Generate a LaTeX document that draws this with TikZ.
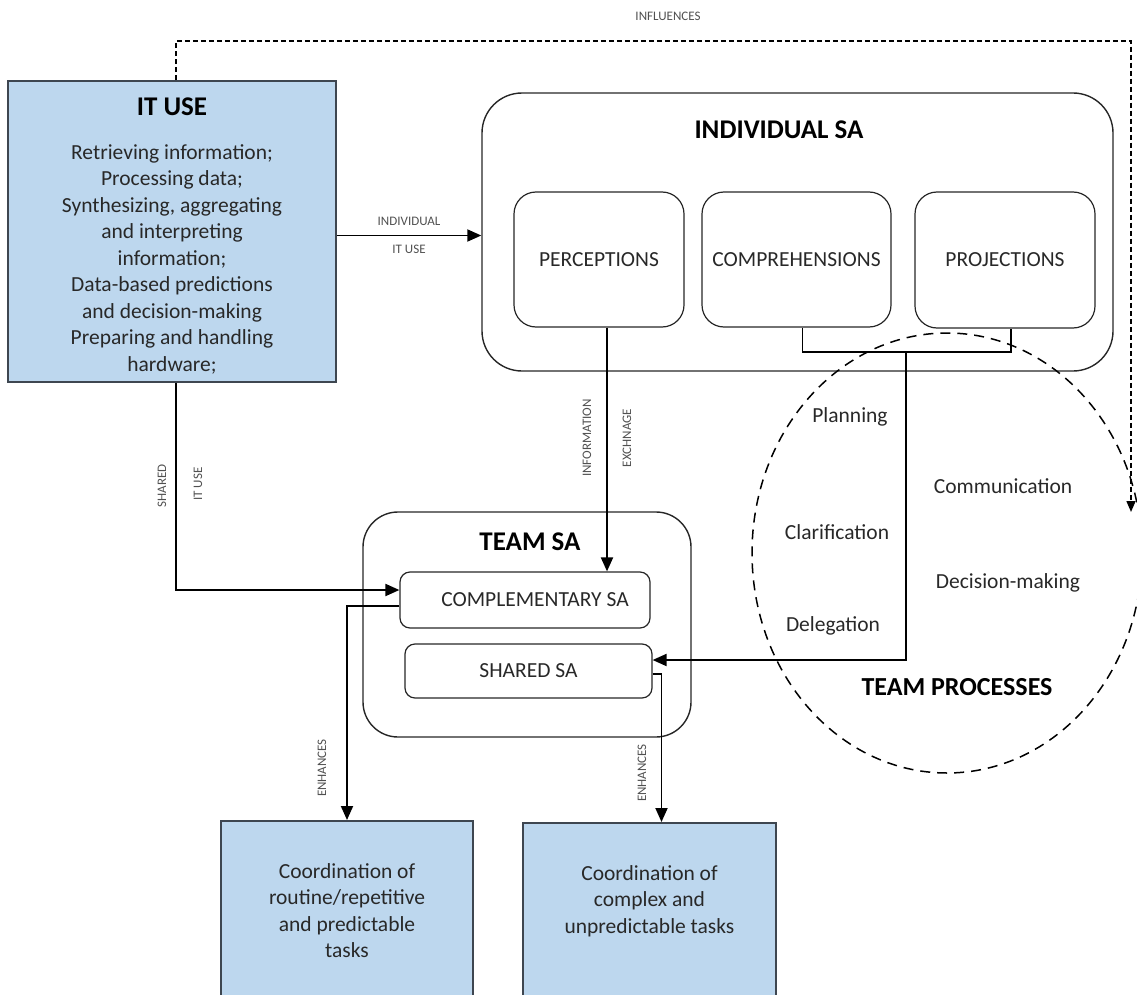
\documentclass[tikz,border=0pt]{standalone}
\usepackage{fontspec}
\setmainfont{Carlito}
\usetikzlibrary{arrows.meta}
\definecolor{boxblue}{RGB}{189,215,238}
\definecolor{boxedge}{RGB}{62,70,80}
\definecolor{inkgray}{RGB}{40,40,40}
\definecolor{lblgray}{RGB}{80,80,80}

\tikzset{
  bluebox/.style={draw=boxedge, fill=boxblue, line width=1.5pt, inner sep=0pt},
  outerbox/.style={draw=black!85, line width=1.4pt, rounded corners=#1, inner sep=0pt},
  innerbox/.style={draw=black!85, line width=1.2pt, rounded corners=#1, inner sep=0pt},
  headtxt/.style={font=\fontsize{27}{32}\selectfont\bfseries, text=black},
  bodytxt/.style={font=\fontsize{21.5}{26.5}\selectfont, text=inkgray, align=center},
  smalllbl/.style={font=\fontsize{13}{15}\selectfont, text=lblgray, inner sep=1pt},
  arr/.style={line width=1.9pt, -{Triangle[length=14pt,width=12pt]}},
  infl/.style={line width=1.6pt, dash pattern=on 5pt off 3pt},
}

\begin{document}
\begin{tikzpicture}[x=1pt,y=-1pt]
\useasboundingbox (0,0) rectangle (1137,995);
\clip (0,0) rectangle (1137,995);

% IT use
\node[bluebox, minimum width=328, minimum height=301] (ituse) at (172,231.5) {};
\node[headtxt] (itusehead) at (172,107) {IT USE};
\node[bodytxt] (itusebody) at (172,259) {Retrieving information;\\Processing data;\\Synthesizing, aggregating\\and interpreting\\information;\\Data-based predictions\\and decision-making\\Preparing and handling\\hardware;};

% individual SA
\node[outerbox=40pt, minimum width=631, minimum height=278] (indiv) at (797.5,232) {};
\node[headtxt] (indivhead) at (779,130) {INDIVIDUAL SA};
\node[innerbox=22pt, bodytxt, minimum width=170, minimum height=135] (percep) at (599,259.5) {PERCEPTIONS};
\node[innerbox=22pt, bodytxt, minimum width=189, minimum height=135] (compr) at (796.5,259.5) {COMPREHENSIONS};
\node[innerbox=22pt, bodytxt, minimum width=180, minimum height=136] (proj) at (1005,260) {PROJECTIONS};

% team SA
\node[outerbox=35pt, minimum width=328, minimum height=225] (team) at (527,624.5) {};
\node[headtxt] (teamhead) at (530,542) {TEAM SA};
\node[innerbox=10pt, bodytxt, minimum width=250, minimum height=56] (compl) at (525,600) {\hspace{20pt}COMPLEMENTARY SA};
\node[innerbox=10pt, bodytxt, minimum width=247, minimum height=54] (shared) at (528.5,671) {SHARED SA};

% team processes
\draw[line width=1.5pt, dash pattern=on 10pt off 7pt] (947,553) ellipse [x radius=195pt, y radius=220pt];
\node[bodytxt] (plan) at (850,417) {Planning};
\node[bodytxt] (clar) at (837,532) {Clarification};
\node[bodytxt] (deleg) at (833,626) {Delegation};
\node[bodytxt] (comm) at (1003,486) {Communication};
\node[bodytxt] (decis) at (1008,583) {Decision-making};
\node[headtxt, font=\fontsize{26}{30}\selectfont\bfseries] (prochead) at (957,687) {TEAM PROCESSES};

% outcomes
\node[bluebox, bodytxt, anchor=north, minimum width=252, minimum height=180] (task1) at (347,820) {Coordination of\\routine/repetitive\\and predictable\\tasks};
\node[bluebox, bodytxt, anchor=north, minimum width=253, minimum height=180] (task2) at (649.5,822) {Coordination of\\complex and\\unpredictable tasks\\\mbox{}};

% connectors
\draw[arr] ([yshift=-4pt]ituse.east) -- ([yshift=-4pt]ituse.east -| indiv.west)
  node[smalllbl, midway, above=8pt] (lblind) {INDIVIDUAL}
  node[smalllbl, midway, below=8pt] (lblind2) {IT USE};

\draw[arr] ([xshift=8pt]percep.south) -- ([xshift=8pt]percep.south |- compl.north);
\node[smalllbl, rotate=90] (lblinfo) at (587,438) {INFORMATION};
\node[smalllbl, rotate=90] (lblexch) at (627,438) {EXCHNAGE};

\draw[arr] ([xshift=4pt]ituse.south) |- ([yshift=10pt]compl.west);
\node[smalllbl, rotate=90] (lblshared) at (162,486) {SHARED};
\node[smalllbl, rotate=90] (lblshared2) at (198,484) {IT USE};

\draw[arr] ([yshift=-6pt]compl.west) -| (task1.north);
\node[smalllbl, rotate=90] (lblenh1) at (322,768) {ENHANCES};
\draw[arr] ([yshift=-3pt]shared.east) -| ([xshift=12pt]task2.north);
\node[smalllbl, rotate=90] (lblenh2) at (642,773) {ENHANCES};

\coordinate (join) at (906,352);
\draw[line width=1.3pt] ([xshift=6pt]compr.south) |- (join) -| ([xshift=6pt]proj.south);
\draw[arr] (join) |- ([yshift=11pt]shared.east);

\coordinate (inflcorner) at (1131,41);
\coordinate (inflend) at (1131,512);
\draw[infl, -{Triangle[length=11pt,width=9pt]}] ([xshift=4pt]ituse.north) |- (inflcorner) -- (inflend);
\node[smalllbl] (lblinfl) at (668,16) {INFLUENCES};

\end{tikzpicture}
\end{document}
